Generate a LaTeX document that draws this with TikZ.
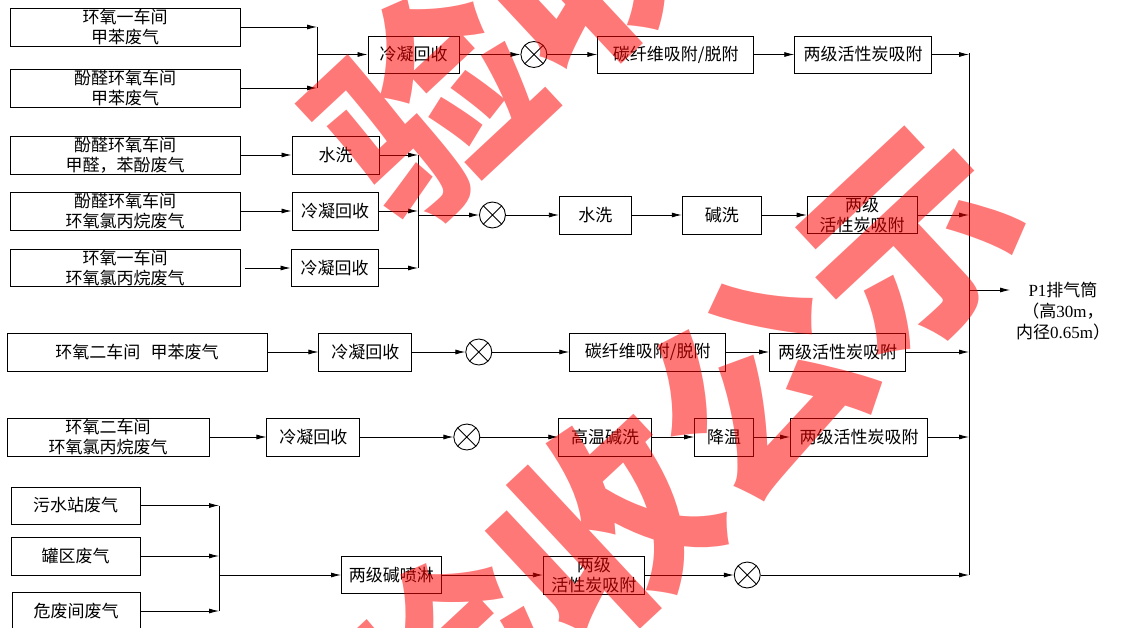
\documentclass[tikz,border=0pt]{standalone}
\usepackage{fontspec}
\setmainfont{Liberation Serif}
\newfontfamily\cjk{Noto Sans CJK SC}
\usetikzlibrary{arrows.meta,positioning}
\tikzset{box/.style={draw, line width=0.9pt, inner sep=1pt, align=center, font=\cjk\fontsize{17}{19.5}\selectfont},
         mix/.style={draw, circle, line width=0.9pt, minimum size=26pt, inner sep=0pt,
                     path picture={\draw (path picture bounding box.north west) -- (path picture bounding box.south east)
                                         (path picture bounding box.north east) -- (path picture bounding box.south west);}},
         flow/.style={-{Latex[length=10pt,width=5pt]}, line width=0.8pt},
         wm/.style={inner sep=0pt, text=red, text opacity=0.53, rotate=43, font=\cjk\bfseries\fontsize{210}{210}\selectfont}}

\begin{document}
\begin{tikzpicture}[x=1pt,y=-1pt]
\useasboundingbox (0,0) rectangle (1123,628);
% first line: toluene
\node[box, minimum width=230pt, minimum height=38pt] (a1) at (125,27) {环氧一车间\\甲苯废气};
\node[box, minimum width=230pt, minimum height=38pt] (a2) at (125,88) {酚醛环氧车间\\甲苯废气};
\coordinate (j1) at (317,54.5);
\node[box, minimum width=91pt, minimum height=37pt] (k1) at (413.5,54.5) {冷凝回收};
\node[mix] (m1) [right=61pt of k1] {};
\node[box, minimum width=156pt, minimum height=37pt] (t1) [right=50pt of m1] {碳纤维吸附/脱附};
\node[box, minimum width=137pt, minimum height=37pt] (h1) [right=40pt of t1] {两级活性炭吸附};
% second line
\node[box, minimum width=230pt, minimum height=38pt] (b1) at (125,155) {酚醛环氧车间\\甲醛，苯酚废气};
\node[box, minimum width=230pt, minimum height=38pt] (b2) at (125,211) {酚醛环氧车间\\环氧氯丙烷废气};
\node[box, minimum width=230pt, minimum height=37pt] (b3) at (125,268) {环氧一车间\\环氧氯丙烷废气};
\node[box, minimum width=87pt, minimum height=38pt] (w1) at (335.5,155) {水洗};
\node[box, minimum width=86pt, minimum height=38pt] (k2) at (335,211) {冷凝回收};
\node[box, minimum width=87pt, minimum height=37pt] (k3) at (334.5,268) {冷凝回收};
\coordinate (j2) at (418,215);
\node[mix] (m2) [right=61pt of j2] {};
\node[box, minimum width=72pt, minimum height=38pt] (w2) [right=53pt of m2] {水洗};
\node[box, minimum width=79pt, minimum height=38pt] (x2) [right=50pt of w2] {碱洗};
\node[box, minimum width=110pt, minimum height=37pt] (h2) [right=45pt of x2] {两级\\活性炭吸附};
% third line
\node[box, minimum width=260pt, minimum height=38pt] (c1) at (137,352) {环氧二车间\hspace{0.6em}甲苯废气};
\node[box, minimum width=93pt, minimum height=38pt] (k4) [right=51pt of c1] {冷凝回收};
\node[mix] (m3) [right=53pt of k4] {};
\node[box, minimum width=156pt, minimum height=38pt] (t2) [right=77pt of m3] {碳纤维吸附/脱附};
\node[box, minimum width=136pt, minimum height=38pt] (h3) [right=43pt of t2] {两级活性炭吸附};
% fourth line
\node[box, minimum width=202pt, minimum height=38pt] (d1) at (108,437) {环氧二车间\\环氧氯丙烷废气};
\node[box, minimum width=93pt, minimum height=38pt] (k5) [right=57pt of d1] {冷凝回收};
\node[mix] (m4) [right=93pt of k5] {};
\node[box, minimum width=93pt, minimum height=38pt] (g1) [right=78pt of m4] {高温碱洗};
\node[box, minimum width=59pt, minimum height=38pt] (c2) [right=42pt of g1] {降温};
\node[box, minimum width=137pt, minimum height=38pt] (h4) [right=36pt of c2] {两级活性炭吸附};
% fifth line
\node[box, minimum width=129pt, minimum height=37pt] (e1) at (75.5,505.5) {污水站废气};
\node[box, minimum width=129pt, minimum height=38pt] (e2) at (75.5,556) {罐区废气};
\node[box, minimum width=128pt, minimum height=38pt] (e3) at (76,611) {危废间废气};
\coordinate (j5) at (219,575);
\node[box, minimum width=100pt, minimum height=37pt] (s1) [right=122pt of j5] {两级碱喷淋};
\node[box, minimum width=101pt, minimum height=38pt] (h5) [right=101pt of s1] {两级\\活性炭吸附};
\node[mix] (m5) [right=89pt of h5] {};
% stack
\coordinate (col) at (969,53);
\coordinate (colb) at (969,575);
\coordinate (p1) at (1010,290);
\node[align=center, inner sep=0pt, font=\fontsize{17}{21}\selectfont] (p1txt) at (1063,311)
  {P1{\cjk 排气筒}\\{\cjk （高}30m{\cjk ，}\\{\cjk 内径}0.65m{\cjk ）}};

\draw[line width=0.8pt] (col) -- (colb);
\draw[flow] (a1.east) -- (a1.east -| j1);
\draw[flow] (a2.east) -- (a2.east -| j1);
\draw[line width=0.8pt] (a1.east -| j1) -- (a2.east -| j1);
\draw[flow] (j1) -- (k1);
\draw[flow] (k1) -- (m1);
\draw[flow] (m1) -- (t1);
\draw[flow] (t1) -- (h1);
\draw[flow] (h1) -- (h1 -| col);

\draw[flow] (b1) -- (w1);
\draw[flow] (b2) -- (k2);
\draw[flow] ([xshift=5pt]b3.east) -- (k3);
\draw[flow] (w1.east) -- (w1.east -| j2);
\draw[flow] (k2.east) -- (k2.east -| j2);
\draw[flow] (k3.east) -- (k3.east -| j2);
\draw[line width=0.8pt] (w1.east -| j2) -- (k3.east -| j2);
\draw[flow] (j2) -- (m2);
\draw[flow] (m2) -- (w2);
\draw[flow] (w2) -- (x2);
\draw[flow] (x2) -- (h2);
\draw[flow] (h2) -- (h2 -| col);

\draw[flow] (c1) -- (k4);
\draw[flow] (k4) -- (m3);
\draw[flow] (m3) -- (t2);
\draw[flow] (t2) -- (h3);
\draw[flow] (h3) -- (h3 -| col);

\draw[flow] (d1) -- (k5);
\draw[flow] (k5) -- (m4);
\draw[flow] (m4) -- (g1);
\draw[flow] (g1) -- (c2);
\draw[flow] (c2) -- (h4);
\draw[flow] (h4) -- (h4 -| col);

\draw[flow] (e1.east) -- (e1.east -| j5);
\draw[flow] (e2.east) -- (e2.east -| j5);
\draw[flow] (e3.east) -- (e3.east -| j5);
\draw[line width=0.8pt] (e1.east -| j5) -- (e3.east -| j5);
\draw[flow] (j5) -- (s1);
\draw[flow] (s1) -- (h5);
\draw[flow] (h5) -- (m5);
\draw[flow] (m5) -- (colb);

\draw[flow] (col |- p1) -- (p1);

% watermark
\node[wm] (wma) at (660,-110) {验收公示};
\node[wm] (wmb) at (679,455) {验收公示};
\end{tikzpicture}
\end{document}
